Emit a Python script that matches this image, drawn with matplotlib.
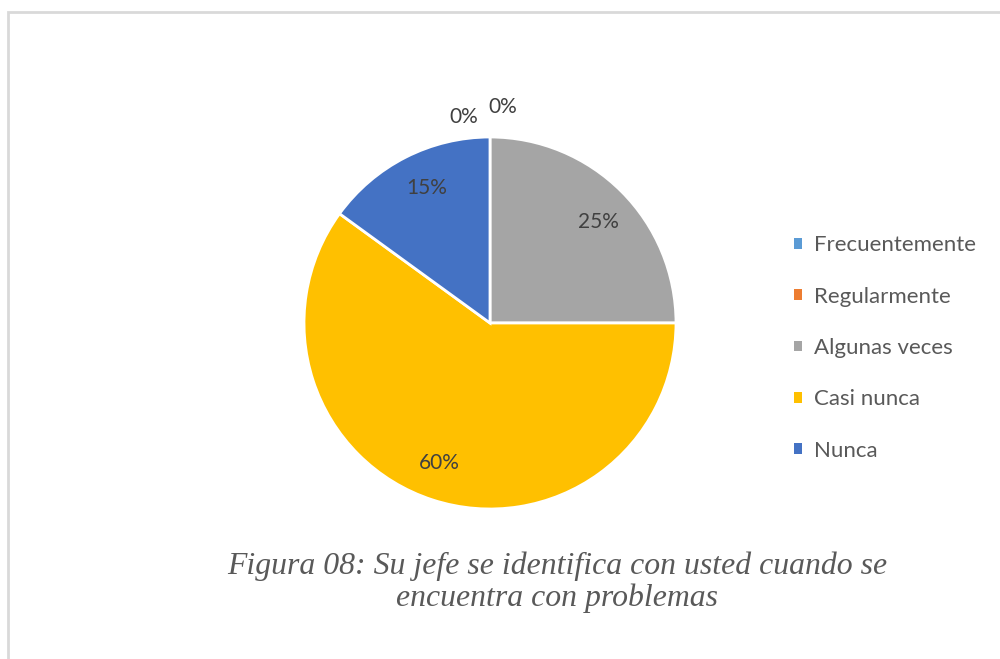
import numpy as np
import matplotlib
matplotlib.use("Agg")
import matplotlib.pyplot as plt
from matplotlib.patches import Rectangle

categories = ["Frecuentemente", "Regularmente", "Algunas veces", "Casi nunca", "Nunca"]
values = [0, 0, 25, 60, 15]
colors = ["#5b9bd5", "#ed7d31", "#a5a5a5", "#ffc000", "#4472c4"]
caption = "Figura 08: Su jefe se identifica con usted cuando se\nencuentra con problemas"

fig = plt.figure(figsize=(10, 6.59), dpi=100)
fig.patch.set_facecolor("white")

# light frame around the chart area (cropped at right/bottom)
fig.patches.append(Rectangle((0.0075, -0.01), 1.0, 0.992, transform=fig.transFigure,
                             fill=False, edgecolor="#d9d9d9", linewidth=2))

cx, cy, r = 490, 323, 186
ax = fig.add_axes([(cx - r) / 1000, (659 - cy - r) / 659, 2 * r / 1000, 2 * r / 659])
wedges, _ = ax.pie(values, colors=colors, startangle=90, counterclock=False,
                   radius=1, wedgeprops=dict(edgecolor="white", linewidth=2))
ax.set_xlim(-1, 1)
ax.set_ylim(-1, 1)
ax.set_aspect("equal")
ax.axis("off")

lab_font = dict(family=["Lato", "DejaVu Sans"], fontsize=15, color="#404040")
zero_offsets = [(0.07, 1.16), (-0.14, 1.11)]
zi = 0
for w, v in zip(wedges, values):
    if v == 0:
        x, y = zero_offsets[zi]
        zi += 1
    else:
        ang = np.deg2rad((w.theta1 + w.theta2) / 2 - 2)
        x, y = 0.80 * np.cos(ang), 0.80 * np.sin(ang)
    ax.text(x, y, f"{v}%", ha="center", va="center", clip_on=False, **lab_font)

handles = [Rectangle((0, 0), 1, 1, facecolor=c, edgecolor="none") for c in colors]
leg = fig.legend(handles, categories, loc="center left", bbox_to_anchor=(0.794, 0.472),
                 frameon=False, borderpad=0, borderaxespad=0,
                 handlelength=0.36, handleheight=0.36, handletextpad=0.55,
                 labelspacing=1.41, prop=dict(family=["Lato", "DejaVu Sans"], size=16))
for t in leg.get_texts():
    t.set_color("#595959")

fig.text(0.557, 0.117, caption, ha="center", va="center", fontsize=22.9,
         family="Liberation Serif", style="italic", color="#595959", linespacing=1.1)

fig.savefig("out.png", dpi=100, facecolor="white")
